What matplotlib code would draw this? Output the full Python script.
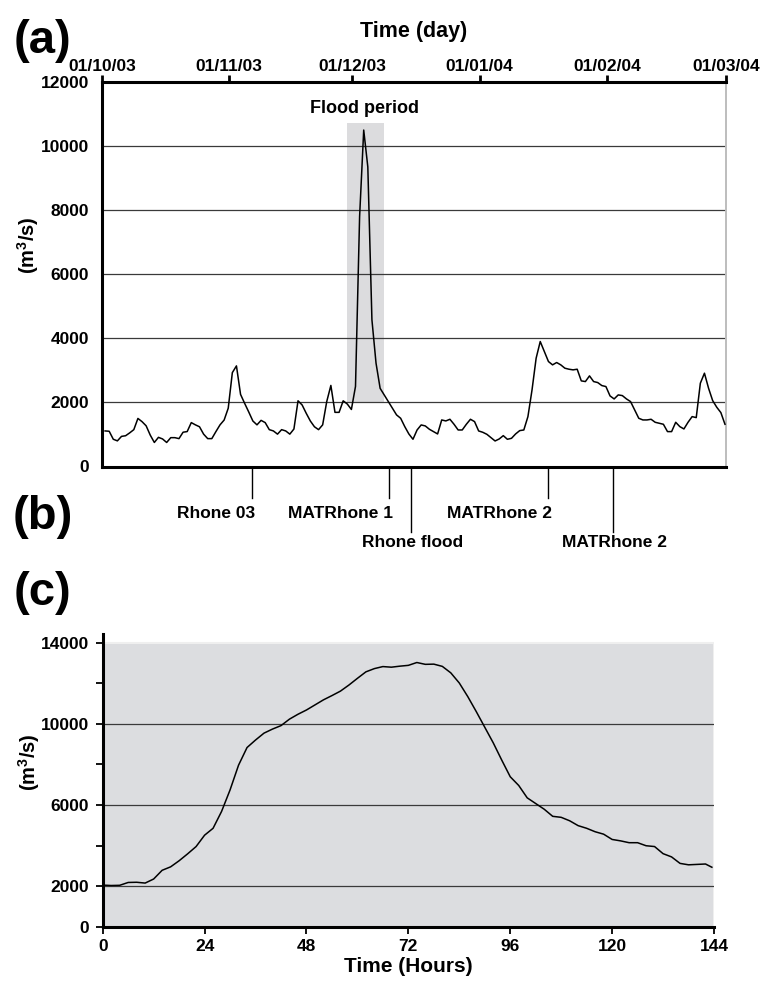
import numpy as np
import matplotlib
matplotlib.use('Agg')
import matplotlib.pyplot as plt
from matplotlib.patches import Rectangle

plt.rcParams['font.family'] = ['Liberation Sans', 'DejaVu Sans']
plt.rcParams['font.weight'] = 'bold'
plt.rcParams['mathtext.fontset'] = 'custom'
plt.rcParams['mathtext.rm'] = 'Liberation Sans:bold'
plt.rcParams['mathtext.it'] = 'Liberation Sans:bold'
plt.rcParams['mathtext.bf'] = 'Liberation Sans:bold'

# (a) daily discharge, 1 Oct 2003 -> 29 Feb 2004
daily_flow = [
    1110, 1100, 850, 800, 940, 960, 1050, 1150, 1500, 1400,
    1270, 980, 750, 910, 860, 750, 900, 900, 870, 1070,
    1090, 1370, 1300, 1240, 1010, 870, 870, 1090, 1300, 1450,
    1820, 2930, 3140, 2250, 1970, 1700, 1420, 1300, 1440, 1370,
    1150, 1110, 1010, 1150, 1110, 1010, 1170, 2050, 1920, 1660,
    1420, 1240, 1150, 1300, 2030, 2530, 1690, 1690, 2050, 1950,
    1780, 2500, 7800, 10500, 9350, 4580, 3225, 2440, 2234, 2026,
    1820, 1610, 1505, 1245, 1015, 850, 1140, 1297, 1266, 1162,
    1089, 1016, 1453, 1422, 1474, 1318, 1140, 1140, 1318, 1474,
    1401, 1109, 1068, 1005, 901, 797, 859, 963, 849, 880,
    1016, 1120, 1140, 1557, 2390, 3380, 3900, 3588, 3276, 3172,
    3245, 3172, 3068, 3036, 3016, 3036, 2672, 2651, 2828, 2651,
    2620, 2526, 2495, 2203, 2109, 2234, 2213, 2109, 2026, 1766,
    1505, 1453, 1453, 1474, 1380, 1349, 1318, 1089, 1089, 1380,
    1245, 1172, 1380, 1557, 1526, 2599, 2912, 2443, 2057, 1849,
    1682, 1318,
]
month_days = [0, 31, 61, 92, 123, 152]
month_labels = ['01/10/03', '01/11/03', '01/12/03', '01/01/04', '01/02/04', '01/03/04']
flood_start, flood_end = 59.7, 68.7

# (b) cruises
cruise_days = [36.5, 70.0, 75.2, 108.6, 124.5]
cruise_names = ['Rhone 03', 'MATRhone 1', 'Rhone flood', 'MATRhone 2', 'MATRhone 2']
cruise_row = [0, 0, 1, 0, 1]

# (c) hourly discharge during the flood
hours = list(range(0, 143, 2)) + [143.5]
hourly_flow = [
    2050, 2030, 2040, 2180, 2190, 2150, 2350, 2780, 2950, 3250,
    3590, 3950, 4510, 4850, 5680, 6740, 7960, 8830, 9200, 9540,
    9740, 9910, 10230, 10470, 10680, 10930, 11180, 11390, 11610, 11910,
    12240, 12560, 12720, 12820, 12790, 12840, 12880, 13020, 12930, 12940,
    12830, 12510, 12010, 11340, 10600, 9830, 9060, 8210, 7390, 6960,
    6350, 6070, 5790, 5440, 5390, 5220, 4980, 4850, 4680, 4560,
    4300, 4230, 4140, 4140, 3990, 3950, 3600, 3440, 3120, 3050,
    3070, 3090, 2930,
]

W, H = 768, 983
fig = plt.figure(figsize=(W / 100, H / 100), dpi=100)


def px(x0, y0, x1, y1):
    return [x0 / W, 1 - y1 / H, (x1 - x0) / W, (y1 - y0) / H]


# ---------- panel (a)
ax1 = fig.add_axes(px(102, 82, 726, 466.5))
days = np.arange(len(daily_flow)) + 0.75
ax1.fill_between([flood_start, flood_end], 2000, 10730, color='#dcdcde', lw=0, zorder=1)
ax1.plot(days, daily_flow, color='black', lw=1.1, zorder=3)
ax1.set_xlim(0, 152)
ax1.set_ylim(0, 12000)
ax1.set_axisbelow('line')
ax1.yaxis.grid(True, color='#3a3a3a', lw=0.9)

ax1.xaxis.tick_top()
ax1.set_xticks(month_days, month_labels)
ax1.tick_params(axis='x', which='major', direction='out', length=5, width=2,
                pad=1, labelsize=12.5)
ax1.set_yticks(range(0, 12001, 2000))
ax1.set_yticks([0, 12000], minor=True)
ax1.tick_params(axis='y', which='major', length=0, pad=9.5, labelsize=12.5)
ax1.tick_params(axis='y', which='minor', length=4.5, width=1.8)
for s in ['top', 'left', 'bottom']:
    ax1.spines[s].set_linewidth(2.2)
ax1.spines['right'].set_color('#bdbdbd')
ax1.spines['right'].set_linewidth(1.4)

ax1.text((flood_start + flood_end) / 2 - 0.2, 11170, 'Flood period', ha='center',
         va='center', fontsize=13)

# cruise markers below the axis (b)
line_end = [-990, -2050]
label_y = [-1470, -2360]
for d, name, r in zip(cruise_days, cruise_names, cruise_row):
    ax1.plot([d, d], [0, line_end[r]], color='black', lw=1, clip_on=False)
    if r == 0:
        ax1.text(d + 0.9, label_y[r], name, ha='right', va='center', fontsize=12.5)
    else:
        ax1.text(d + 0.4, label_y[r], name, ha='center', va='center', fontsize=12.5)

fig.text(414 / W, 1 - 31 / H, 'Time (day)', ha='center', va='center', fontsize=15.5)
fig.text(28 / W, 1 - 245 / H, '(m$^{3}$/s)', ha='center', va='center',
         rotation=90, fontsize=14.5)

# ---------- panel (c)
ax2 = fig.add_axes(px(102.7, 633.5, 714, 926.7))
ax2.add_patch(Rectangle((0, 0), 144, 14000, facecolor='#dcdde0', edgecolor='#efefef',
                        lw=1.5, zorder=0.5))
ax2.plot(hours, hourly_flow, color='black', lw=1.1, zorder=3)
ax2.set_xlim(0, 144)
ax2.set_ylim(0, 14450)
ax2.set_axisbelow('line')
ax2.set_yticks([0, 2000, 6000, 10000, 14000])
ax2.set_yticks([4000, 8000, 12000], minor=True)
ax2.yaxis.grid(True, color='#3a3a3a', lw=0.9)
ax2.get_ygridlines()[0].set_visible(False)
ax2.get_ygridlines()[-1].set_visible(False)
ax2.set_xticks(range(0, 145, 24))
ax2.tick_params(axis='both', which='both', direction='out', length=5, width=1.3,
                labelsize=12.5)
ax2.tick_params(axis='y', pad=5)
ax2.tick_params(axis='x', pad=4)
for s in ['top', 'right']:
    ax2.spines[s].set_visible(False)
for s in ['left', 'bottom']:
    ax2.spines[s].set_linewidth(2.2)

fig.text(408 / W, 1 - 966 / H, 'Time (Hours)', ha='center', va='center', fontsize=15)
fig.text(29 / W, 1 - 762 / H, '(m$^{3}$/s)', ha='center', va='center',
         rotation=90, fontsize=14.5)

# panel letters
for lab, xc, yc in [('(a)', 42, 41), ('(b)', 43, 517), ('(c)', 43, 593)]:
    fig.text(xc / W, 1 - yc / H, lab, ha='center', va='center', fontsize=34)

fig.savefig('out.png', dpi=100)
